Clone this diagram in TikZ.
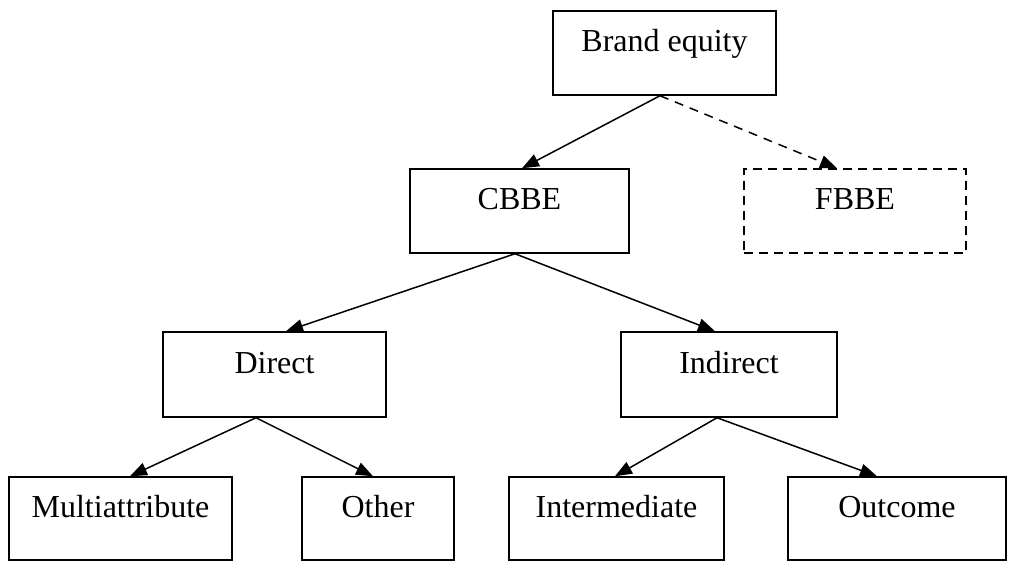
\documentclass[tikz,border=0pt]{standalone}
\usepackage{fontspec}
\setmainfont{Liberation Serif}
\usetikzlibrary{arrows.meta,calc}
\tikzset{
  box/.style={draw=black, line width=1.5pt, minimum height=84pt, inner xsep=0pt, inner ysep=0pt,
    text height=21pt, text depth=23pt, font=\fontsize{32}{38}\selectfont},
  dbox/.style={box, dash pattern=on 9pt off 6pt},
  arr/.style={line width=1.5pt, -{Triangle[length=17pt,width=13pt]}},
  darr/.style={arr, dash pattern=on 9pt off 7pt}
}
\begin{document}
\begin{tikzpicture}[x=1pt,y=-1pt]
\useasboundingbox (0,0) rectangle (1009,561);
\node[box, minimum width=223pt] (be) at (664.5,53) {Brand equity\hspace{20pt}};
\node[box, minimum width=219pt] (cbbe) at (519.5,211) {CBBE};
\node[dbox, minimum width=222pt] (fbbe) at (855,211) {FBBE};
\node[box, minimum width=223pt, minimum height=85pt] (direct) at (274.5,374.5) {Direct};
\node[box, minimum width=216pt, minimum height=85pt] (indirect) at (729,374.5) {Indirect};
\node[box, minimum width=223pt, minimum height=83pt] (multi) at (120.5,518.5) {Multiattribute};
\node[box, minimum width=152pt, minimum height=83pt] (other) at (378,518.5) {Other};
\node[box, minimum width=215pt, minimum height=83pt] (inter) at (616.5,518.5) {Intermediate};
\node[box, minimum width=218pt, minimum height=83pt] (outcome) at (897,518.5) {Outcome};
\draw[arr] ($(be.south)+(-4.5,0)$) -- ($(cbbe.north)+(2.5,0)$);
\draw[darr] ($(be.south)+(-4.5,0)$) -- ($(fbbe.north)+(-18,0)$);
\draw[arr] ($(cbbe.south)+(-4.5,0)$) -- ($(direct.north)+(11.5,0)$);
\draw[arr] ($(cbbe.south)+(-4.5,0)$) -- ($(indirect.north)+(-14,0)$);
\draw[arr] ($(direct.south)+(-18.5,0)$) -- ($(multi.north)+(9.5,0)$);
\draw[arr] ($(direct.south)+(-18.5,0)$) -- ($(other.north)+(-5,0)$);
\draw[arr] ($(indirect.south)+(-12,0)$) -- ($(inter.north)+(-1.5,0)$);
\draw[arr] ($(indirect.south)+(-12,0)$) -- ($(outcome.north)+(-20,0)$);
\end{tikzpicture}
\end{document}
